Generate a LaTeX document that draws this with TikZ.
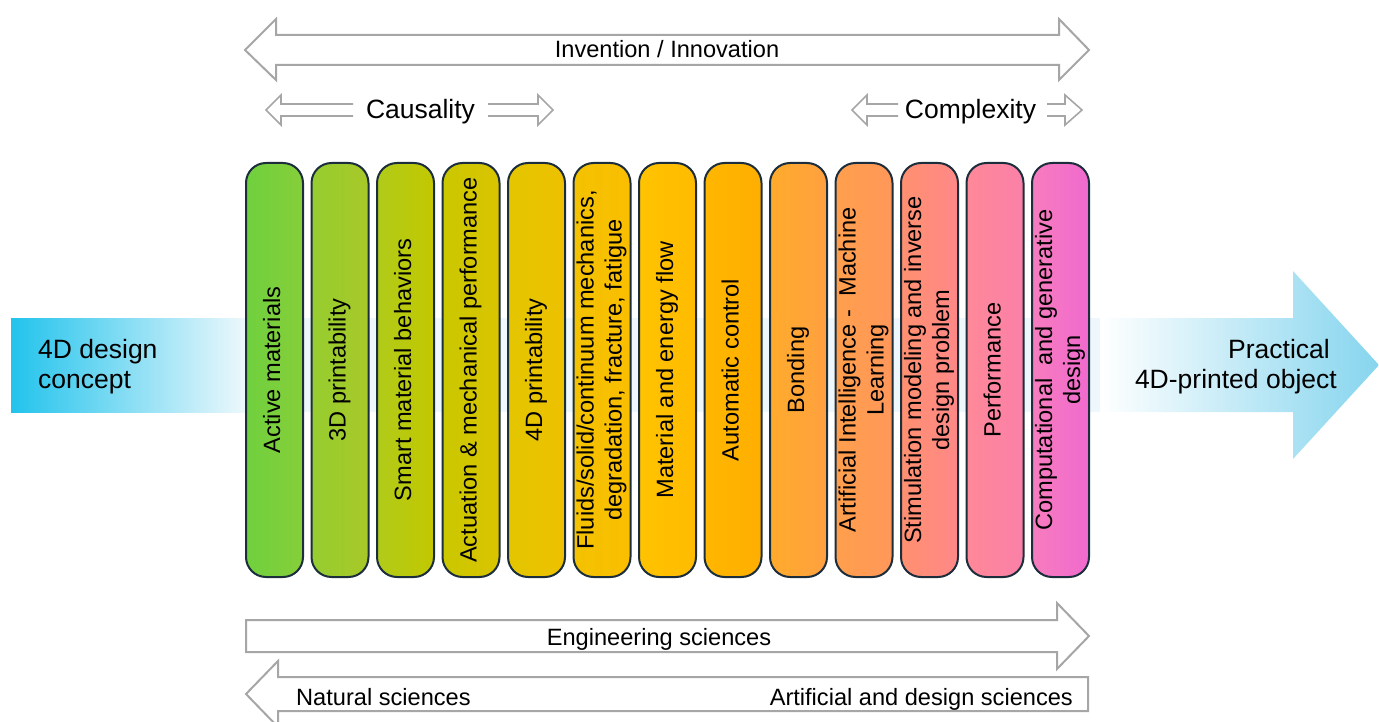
\documentclass[tikz,border=0pt]{standalone}
\usepackage{fontspec}
\setmainfont{Liberation Sans}
\usepackage{tikz}

\newcommand{\barfont}{\fontsize{23.6}{28}\selectfont}
\newcommand{\sidefont}{\fontsize{26.5}{30}\selectfont}
\newcommand{\bartext}[1]{\rotatebox{90}{\begin{tabular}{@{}c@{}}#1\end{tabular}}}

\definecolor{arrowgray}{HTML}{A6A6A6}
\definecolor{barline}{HTML}{1C2D3B}
\definecolor{conceptblue}{HTML}{22C3EC}
\definecolor{paleblue}{HTML}{EEF8FC}
\definecolor{objectblue}{HTML}{86D5EE}
\definecolor{bar1l}{HTML}{70D03E}\definecolor{bar1r}{HTML}{86CE3A}
\definecolor{bar2l}{HTML}{96CD30}\definecolor{bar2r}{HTML}{A8C828}
\definecolor{bar3l}{HTML}{B0CB1A}\definecolor{bar3r}{HTML}{C3C800}
\definecolor{bar4l}{HTML}{CAC800}\definecolor{bar4r}{HTML}{DAC400}
\definecolor{bar5l}{HTML}{E3C500}\definecolor{bar5r}{HTML}{EEC100}
\definecolor{bar6l}{HTML}{F3C200}\definecolor{bar6r}{HTML}{FABE00}
\definecolor{bar7l}{HTML}{FFC300}\definecolor{bar7r}{HTML}{FFBB00}
\definecolor{bar8l}{HTML}{FFB700}\definecolor{bar8r}{HTML}{FFAE00}
\definecolor{bar9l}{HTML}{FFAB2C}\definecolor{bar9r}{HTML}{FFA040}
\definecolor{bar10l}{HTML}{FF9F4C}\definecolor{bar10r}{HTML}{FF975A}
\definecolor{bar11l}{HTML}{FF9070}\definecolor{bar11r}{HTML}{FF8888}
\definecolor{bar12l}{HTML}{FF8898}\definecolor{bar12r}{HTML}{FA80A8}
\definecolor{bar13l}{HTML}{F77CBE}\definecolor{bar13r}{HTML}{F06ACE}

\begin{document}
\begin{tikzpicture}[x=1pt,y=-1pt,
	bar/.style={draw=barline,line width=2pt,minimum width=57pt,minimum height=414pt,rounded corners=20pt,inner sep=0pt,font=\barfont},
	block/.style={draw=arrowgray,line width=2pt,fill=white},
	slim/.style={draw=arrowgray,line width=1.6pt}]
	\useasboundingbox (0,0) rectangle (1379,722);

	% blue band behind the bars
	\path[left color=conceptblue,right color=paleblue] (11,318) rectangle (246,412);
	\path[fill=paleblue] (246,318) rectangle (1100,412);
	\path[left color=white,right color=objectblue] (1100,318) -- (1293,318) -- (1293,271) -- (1379,365) -- (1293,459) -- (1293,412) -- (1100,412) -- cycle;
	\node[anchor=west,align=left,inner sep=0pt,font=\sidefont] (concept) at (38,367) {4D design\\concept};
	\node[anchor=east,align=right,inner sep=0pt,font=\sidefont] (object) at (1337,367) {Practical\kern7pt\\4D-printed object};

	% the thirteen bars
	\node[bar,left color=bar1l,right color=bar1r] (c1) at (274.5,370) {\bartext{Active materials}};
	\node[bar,left color=bar2l,right color=bar2r] (c2) at (340,370) {\bartext{3D printability}};
	\node[bar,left color=bar3l,right color=bar3r] (c3) at (405.5,370) {\bartext{Smart material behaviors}};
	\node[bar,left color=bar4l,right color=bar4r] (c4) at (471,370) {\bartext{Actuation \& mechanical performance}};
	\node[bar,left color=bar5l,right color=bar5r] (c5) at (536.5,370) {\bartext{4D printability}};
	\node[bar,left color=bar6l,right color=bar6r] (c6) at (602,370) {\bartext{Fluids/solid/continuum mechanics,\\degradation, fracture, fatigue}};
	\node[bar,left color=bar7l,right color=bar7r] (c7) at (667.5,370) {\bartext{Material and energy flow}};
	\node[bar,left color=bar8l,right color=bar8r] (c8) at (733,370) {\bartext{Automatic control}};
	\node[bar,left color=bar9l,right color=bar9r] (c9) at (798.5,370) {\bartext{Bonding}};
	\node[bar,left color=bar10l,right color=bar10r] (c10) at (864,370) {\bartext{Artificial Intelligence -\ \ Machine\\Learning}};
	\node[bar,left color=bar11l,right color=bar11r] (c11) at (929.5,370) {\bartext{Stimulation modeling and inverse\\design problem}};
	\node[bar,left color=bar12l,right color=bar12r] (c12) at (995,370) {\bartext{Performance}};
	\node[bar,left color=bar13l,right color=bar13r] (c13) at (1060.5,370) {\bartext{Computational\ \ and generative\\design}};

	% arrows above
	\path[block] (245,50) -- (276,19) -- (276,35) -- (1059,35) -- (1059,19) -- (1089,50) -- (1059,80) -- (1059,65) -- (276,65) -- (276,80) -- cycle;
	\node[anchor=base,font=\barfont] (inv) at (667,58) {Invention / Innovation};
	\path[slim] (353,104) -- (281,104) -- (281,95) -- (266,110) -- (281,125) -- (281,116) -- (353,116);
	\path[slim] (488,104) -- (538,104) -- (538,95) -- (553,110) -- (538,125) -- (538,116) -- (488,116);
	\node[anchor=base,font=\sidefont] (caus) at (420.5,119) {Causality};
	\path[slim] (898,104) -- (867,104) -- (867,95) -- (852,110) -- (867,125) -- (867,116) -- (898,116);
	\path[slim] (1047,104) -- (1065,104) -- (1065,95) -- (1082,110) -- (1065,125) -- (1065,116) -- (1047,116);
	\node[anchor=base,font=\sidefont] (comp) at (970.5,119) {Complexity};

	% arrows below
	\path[block] (246,620) -- (1057,620) -- (1057,603) -- (1089,636) -- (1057,669) -- (1057,652) -- (246,652) -- cycle;
	\node[anchor=base,font=\barfont] (eng) at (659,645) {Engineering sciences};
	\path[block] (1088,677) -- (278,677) -- (278,661) -- (246,694) -- (278,727) -- (278,711) -- (1088,711) -- cycle;
	\node[anchor=base west,inner sep=0pt,font=\barfont] (nat) at (296,705) {Natural sciences};
	\node[anchor=base east,inner sep=0pt,font=\barfont] (art) at (1073,705) {Artificial and design sciences};
\end{tikzpicture}
\end{document}
